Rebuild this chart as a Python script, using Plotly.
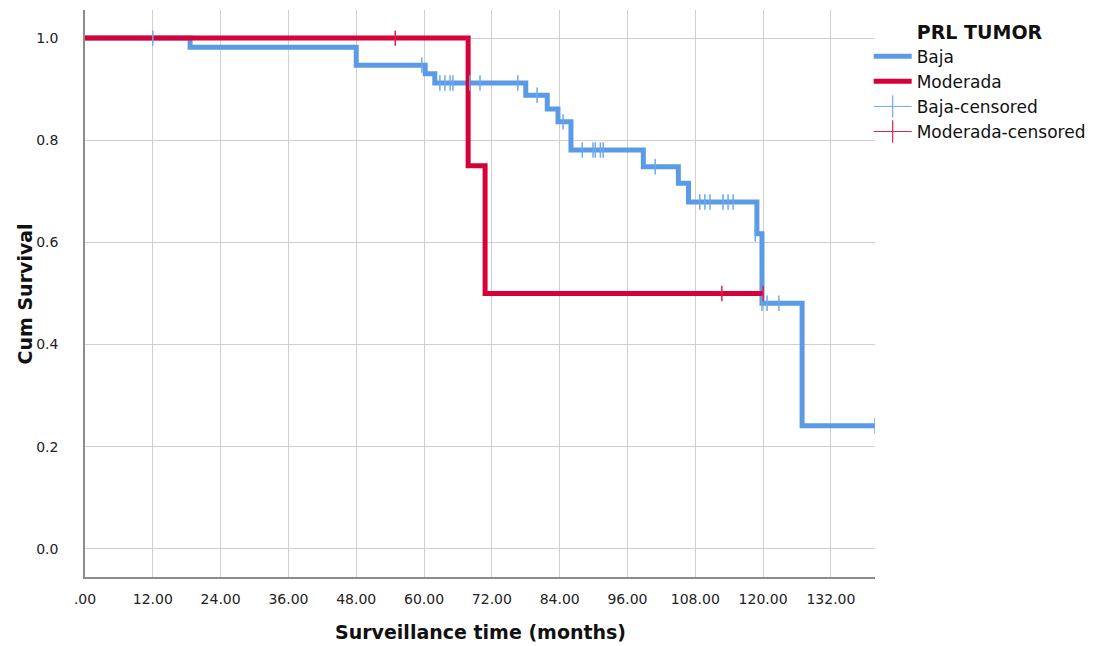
import plotly.graph_objects as go

# Kaplan-Meier step data
baja_time = [0, 18.6, 48.0, 60.2, 61.9, 78.0, 81.8, 83.7, 86.0, 98.8, 105.0, 106.8, 118.9, 119.8, 126.9, 139.8]
baja_surv = [1.0, 0.982, 0.947, 0.930, 0.912, 0.888, 0.861, 0.836, 0.781, 0.748, 0.716, 0.679, 0.617, 0.481, 0.241, 0.241]

mod_time = [0, 67.8, 70.8, 120.0]
mod_surv = [1.0, 0.75, 0.50, 0.50]

baja_cens_time = [12.0, 59.6, 62.8, 63.7, 64.6, 65.1, 68.1, 69.9, 76.6, 80.0, 84.6,
                  88.0, 89.9, 90.3, 91.2, 91.7, 100.9, 108.8, 109.7, 110.6, 112.9,
                  113.8, 114.7, 118.6, 119.8, 120.7, 122.8, 139.8]
baja_cens_surv = [1.0, 0.947, 0.912, 0.912, 0.912, 0.912, 0.912, 0.912, 0.912, 0.888, 0.836,
                  0.781, 0.781, 0.781, 0.781, 0.781, 0.748, 0.679, 0.679, 0.679, 0.679,
                  0.679, 0.679, 0.617, 0.481, 0.481, 0.481, 0.241]

mod_cens_time = [54.9, 112.7, 120.0]
mod_cens_surv = [1.0, 0.5, 0.5]

x_ticks = [0, 12, 24, 36, 48, 60, 72, 84, 96, 108, 120, 132]
x_tick_text = [".00", "12.00", "24.00", "36.00", "48.00", "60.00", "72.00",
               "84.00", "96.00", "108.00", "120.00", "132.00"]
y_ticks = [0.0, 0.2, 0.4, 0.6, 0.8, 1.0]
y_tick_text = ["0.0", "0.2", "0.4", "0.6", "0.8", "1.0"]

BLUE = "#5B9BE6"
RED = "#D6003A"
BLUE_C = "#6FA8EC"
RED_C = "#DC2050"

fig = go.Figure()
fig.add_trace(go.Scatter(x=baja_time, y=baja_surv, mode="lines", line_shape="hv",
                         line=dict(color=BLUE, width=5), name="Baja"))
fig.add_trace(go.Scatter(x=mod_time, y=mod_surv, mode="lines", line_shape="hv",
                         line=dict(color=RED, width=5), name="Moderada"))
fig.add_trace(go.Scatter(x=baja_cens_time, y=baja_cens_surv, mode="markers",
                         marker=dict(symbol="line-ns", size=11, line=dict(color=BLUE_C, width=1.5)),
                         showlegend=False, name="Baja-censored"))
fig.add_trace(go.Scatter(x=mod_cens_time, y=mod_cens_surv, mode="markers",
                         marker=dict(symbol="line-ns", size=11, line=dict(color=RED_C, width=1.5)),
                         showlegend=False, name="Moderada-censored"))
# legend entries for censored marks
fig.add_trace(go.Scatter(x=[None], y=[None], mode="lines+markers",
                         line=dict(color=BLUE_C, width=1),
                         marker=dict(symbol="line-ns", size=16, line=dict(color=BLUE_C, width=1.2)),
                         name="Baja-censored"))
fig.add_trace(go.Scatter(x=[None], y=[None], mode="lines+markers",
                         line=dict(color=RED_C, width=1),
                         marker=dict(symbol="line-ns", size=16, line=dict(color=RED_C, width=1.2)),
                         name="Moderada-censored"))

FONT = "DejaVu Sans, Verdana, sans-serif"
TITLE_FONT = dict(family=FONT, size=19, color="#111")

fig.update_layout(
    width=1088, height=638,
    paper_bgcolor="white", plot_bgcolor="white",
    margin=dict(l=77, r=221, t=2, b=69, autoexpand=False),
    font=dict(family=FONT, size=14, color="#222"),
    legend=dict(
        x=0.992, y=0.993, xanchor="left", yanchor="top",
        title=dict(text="<b>PRL TUMOR</b>", font=dict(family=FONT, size=19, color="#111"), side="top center"),
        font=dict(size=17, color="#111"),
        tracegroupgap=0, itemwidth=38,
        bgcolor="rgba(0,0,0,0)",
    ),
    xaxis=dict(
        range=[0, 139.8], tickvals=x_ticks, ticktext=x_tick_text,
        showgrid=True, gridcolor="#CFCFCF", gridwidth=1,
        showline=True, linecolor="#8C8C8C", linewidth=1.5,
        zeroline=False, ticks="", ticklabelstandoff=8, automargin=False,
    ),
    yaxis=dict(
        range=[-0.055, 1.055], tickvals=y_ticks, ticktext=y_tick_text,
        showgrid=True, gridcolor="#CFCFCF", gridwidth=1,
        showline=True, linecolor="#8C8C8C", linewidth=1.5,
        zeroline=False, ticks="", ticklabelstandoff=22, automargin=False,
    ),
    annotations=[
        dict(text="<b>Surveillance time (months)</b>", xref="paper", yref="paper",
             x=0.5, y=-0.097, xanchor="center", yanchor="middle",
             showarrow=False, font=TITLE_FONT),
        dict(text="<b>Cum Survival</b>", xref="paper", yref="paper",
             x=-0.076, y=0.5, xanchor="center", yanchor="middle", textangle=-90,
             showarrow=False, font=TITLE_FONT),
    ],
)

fig.write_html("out.html")
